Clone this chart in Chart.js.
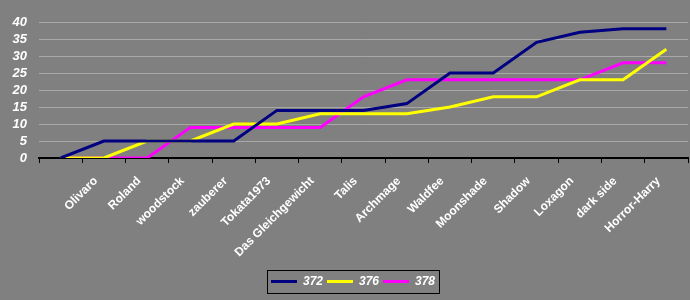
<!DOCTYPE html>
<html><head><meta charset="utf-8">
<style>html,body{margin:0;padding:0;background:#808080;}#wrap{width:690px;height:300px;position:relative}canvas{display:block}</style>
<script src="https://cdn.jsdelivr.net/npm/chart.js@4/dist/chart.umd.min.js"></script>
</head><body><div id="wrap"><canvas id="c"></canvas></div>
<script>
const categories = ["", "Olivaro", "Roland", "woodstock", "zauberer", "Tokata1973", "Das Gleichgewicht", "Talis", "Archmage", "Waldfee", "Moonshade", "Shadow", "Loxagon", "dark side", "Horror-Harry"];
const seriesNames = ["372", "376", "378"];
const s372 = [0, 5, 5, 5, 5, 14, 14, 14, 16, 25, 25, 34, 37, 38, 38];
const s376 = [0, 0, 5, 5, 10, 10, 13, 13, 13, 15, 18, 18, 23, 23, 32];
const s378 = [0, 0, 0, 9, 9, 9, 9, 18, 23, 23, 23, 23, 23, 28, 28];
const yMin = 0, yMax = 40, yStep = 5;
const colors = ["#000080", "#FFFF00", "#FF00FF"];

const legendTweak = {
  id: 'legendTweak',
  afterLayout(chart) {
    const lg = chart.legend;
    if (lg) { lg.left += 9; lg.right += 9; }
  },
  afterDraw(chart) {
    const lg = chart.legend;
    if (!lg || !lg.legendHitBoxes || !lg.legendHitBoxes.length) return;
    const hb = lg.legendHitBoxes;
    let l = Infinity, r = -Infinity, t = Infinity, b = -Infinity;
    hb.forEach(h => { l = Math.min(l, h.left); r = Math.max(r, h.left + h.width); t = Math.min(t, h.top); b = Math.max(b, h.top + h.height); });
    const ctx = chart.ctx;
    ctx.save();
    ctx.strokeStyle = '#000';
    ctx.lineWidth = 1;
    ctx.strokeRect(Math.round(l - 4) + 0.5, Math.round(t - 5.5) + 0.5, Math.round(r - l + 8), Math.round(b - t + 11));
    ctx.restore();
  }
};

function ds(i, data) {
  return {
    label: seriesNames[i], data: data,
    borderColor: colors[i], backgroundColor: colors[i],
    pointBorderColor: colors[i], pointBackgroundColor: colors[i], pointBorderWidth: 3
  };
}

new Chart(document.getElementById('c'), {
  type: 'line',
  data: {
    labels: categories,
    datasets: [ds(0, s372), ds(1, s376), ds(2, s378)]
  },
  options: {
    responsive: true,
    maintainAspectRatio: false,
    animation: false,
    devicePixelRatio: 1,
    elements: { line: { borderWidth: 3, tension: 0, fill: false }, point: { radius: 0, hoverRadius: 0, pointStyle: 'line' } },
    layout: { padding: { left: 0, right: 2, top: 22, bottom: 2.5 } },
    plugins: {
      tooltip: { enabled: false },
      legend: {
        position: 'bottom',
        labels: {
          usePointStyle: true,
          pointStyle: 'line',
          pointStyleWidth: 26,
          boxWidth: 26,
          padding: 4,
          color: '#FFFFFF',
          font: { family: "'Liberation Sans', Arial, sans-serif", size: 12, weight: 'bold', style: 'italic' }
        }
      }
    },
    scales: {
      x: {
        type: 'category',
        offset: true,
        grid: { offset: true, drawOnChartArea: false, drawTicks: true, tickLength: 5, color: '#000000', lineWidth: 1 },
        border: { display: true, color: '#000000', width: 2 },
        ticks: {
          autoSkip: false, maxRotation: 45, minRotation: 45, padding: 11, labelOffset: -8,
          color: '#FFFFFF',
          font: { family: "'Liberation Sans', Arial, sans-serif", size: 12, weight: 'bold' }
        },
        afterFit(scale) { scale.height = 113.5; }
      },
      y: {
        min: yMin, max: yMax,
        grid: { color: '#A8A8A8', lineWidth: 1, drawTicks: false },
        border: { display: false },
        ticks: {
          stepSize: yStep,
          autoSkip: false,
          maxTicksLimit: 20,
          padding: 12,
          color: '#FFFFFF',
          font: { family: "'Liberation Sans', Arial, sans-serif", size: 13, weight: 'bold', style: 'italic', lineHeight: 1 }
        },
        afterFit(scale) { scale.width = 39; }
      }
    }
  },
  plugins: [legendTweak]
});
</script></body></html>
